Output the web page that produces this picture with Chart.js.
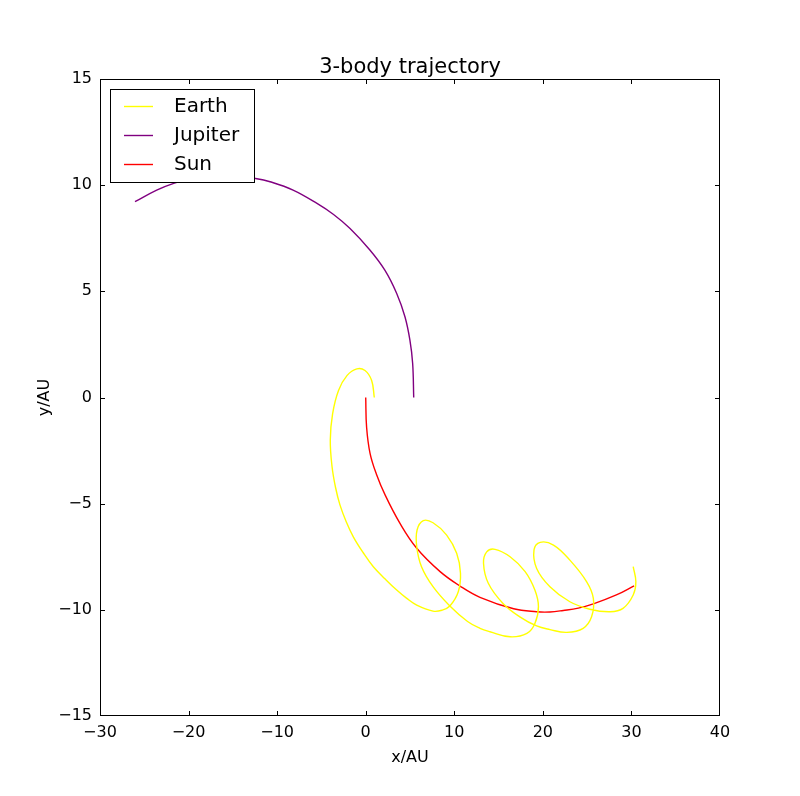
<!DOCTYPE html>
<html>
<head>
<meta charset="utf-8">
<script src="https://cdn.jsdelivr.net/npm/chart.js@4"></script>
<style>
  html,body{margin:0;padding:0;background:#fff;}
  #wrap{width:800px;height:796px;}
</style>
</head>
<body>
<div id="wrap"><canvas id="chart" width="800" height="796"></canvas></div>
<script>
// trajectories, [x, y] in AU
const earthXY = [
  [0.97,0],[0.67,0.8],[-0.08,1.27],[-1.0,1.35],[-2.1,1.04],[-3.07,0.33],[-3.74,-0.77],
  [-4.0,-2.0],[-3.8,-3.26],[-3.4,-4.25],[-2.9,-5.07],[-2.2,-5.85],[-1.4,-6.56],[-0.3,-7.3],
  [0.86,-7.97],[2.2,-8.55],[3.5,-9.07],[4.6,-9.45],[5.76,-9.78],[7.6,-10.06],[8.6,-10.02],
  [9.5,-9.82],[10.45,-9.15],[10.7,-8.28],[10.27,-7.34],[9.14,-6.48],[7.6,-5.9],[6.5,-5.8],
  [5.8,-6.24],[5.76,-7.03],[6.3,-7.97],[7.6,-8.91],[9.5,-9.82],[11.5,-10.55],[12.9,-10.87],
  [14.03,-11.03],[16.3,-11.27],[18.2,-11.11],[19.1,-10.64],[19.5,-9.85],[19.1,-9.07],
  [18.0,-8.2],[16.3,-7.5],[14.6,-7.15],[13.66,-7.27],[13.3,-7.81],[13.84,-8.75],[15.5,-9.7],
  [17.4,-10.33],[19.3,-10.76],[20.8,-10.93],[22.7,-11.06],[24.55,-10.87],[25.5,-10.33],
  [25.7,-9.46],[24.95,-8.68],[23.05,-7.66],[21.2,-6.95],[19.7,-6.82],[19.0,-7.18],
  [19.3,-8.05],[20.8,-8.91],[23.05,-9.62],[25.3,-9.97],[27.6,-10.09],[29.05,-9.93],
  [30.2,-9.3],[30.5,-8.68],[30.2,-7.97]
];
const jupiterXY = [
  [5.42,0],[5.3,1.6],[4.99,2.7],[4.43,3.8],[3.5,4.9],[2.16,6.0],[0.47,6.95],[-1.77,7.96],
  [-3.63,8.62],[-5.5,9.14],[-8.2,9.77],[-10.8,10.16],[-12.5,10.32],[-14.2,10.41],
  [-16,10.45],[-18,10.4],[-20,10.27],[-21.6,10.1],[-23.6,9.77],[-26.05,9.22]
];
const sunXY = [
  [0,0],[0.1,-1.4],[0.49,-2.63],[1.2,-3.6],[2.2,-4.6],[3.87,-5.93],[5.76,-7.1],[8.4,-8.2],
  [10.65,-8.88],[12.9,-9.41],[16.7,-9.95],[19.3,-10.09],[20.8,-10.1],[22.3,-10.03],
  [24,-9.92],[25.7,-9.72],[28.3,-9.3],[30.3,-8.87]
];
const seriesNames = ["Earth","Jupiter","Sun"];
const seriesColors = ["#ffff00","#800080","#ff0000"];
const xTicks = [-30,-20,-10,0,10,20,30,40];
const yTicks = [-15,-10,-5,0,5,10,15];

const toPts = (arr)=>arr.map(([x,y])=>({x,y}));
const fmt = (v)=> v<0 ? "\u2212"+Math.abs(v) : String(v);
const FONT = "'DejaVu Sans', sans-serif";

// frame, inward ticks, title, axis labels, legend
const decor = {
  id:"decor",
  afterDraw(chart){
    const c = chart.ctx, a = chart.chartArea;
    const sx = chart.scales.x, sy = chart.scales.y;
    const clampX = (p)=>Math.min(Math.max(p, a.left+0.5), a.right-0.5);
    const clampY = (p)=>Math.min(Math.max(p, a.top+0.5), a.bottom-0.5);
    c.save();
    c.strokeStyle = "#000"; c.lineWidth = 1;
    c.strokeRect(a.left+0.5, a.top+0.5, a.right-a.left-1, a.bottom-a.top-1);
    c.beginPath();
    xTicks.forEach(v=>{
      const p = clampX(Math.round(sx.getPixelForValue(v))+0.5);
      c.moveTo(p,a.bottom); c.lineTo(p,a.bottom-5);
      c.moveTo(p,a.top); c.lineTo(p,a.top+5);
    });
    yTicks.forEach(v=>{
      const p = clampY(Math.round(sy.getPixelForValue(v))+0.5);
      c.moveTo(a.left,p); c.lineTo(a.left+5,p);
      c.moveTo(a.right,p); c.lineTo(a.right-5,p);
    });
    c.stroke();

    c.fillStyle = "#000";
    c.textAlign = "center"; c.textBaseline = "alphabetic";
    c.font = "21px "+FONT;
    c.fillText("3-body trajectory", (a.left+a.right)/2, 73);
    c.font = "16px "+FONT;
    c.fillText("x/AU", (a.left+a.right)/2, 762);
    c.save();
    c.translate(49, (a.top+a.bottom)/2);
    c.rotate(-Math.PI/2);
    c.fillText("y/AU", 0, 0);
    c.restore();

    // legend
    c.fillStyle = "#fff";
    c.fillRect(110.5, 89.5, 144, 93);
    c.strokeStyle = "#000";
    c.strokeRect(110.5, 89.5, 144, 93);
    c.font = "20px "+FONT;
    c.textAlign = "left"; c.textBaseline = "middle";
    seriesNames.forEach((n,i)=>{
      const y = 106 + i*29;
      c.strokeStyle = seriesColors[i]; c.lineWidth = 1.4;
      c.beginPath(); c.moveTo(124,y+0.5); c.lineTo(153,y+0.5); c.stroke();
      c.fillStyle = "#000";
      c.fillText(n, 174, y+1);
    });
    c.restore();
  }
};

new Chart(document.getElementById("chart"), {
  type:"scatter",
  data:{
    datasets:[earthXY,jupiterXY,sunXY].map((arr,i)=>({
      label: seriesNames[i],
      data: toPts(arr),
      showLine:true,
      borderColor: seriesColors[i],
      backgroundColor: seriesColors[i],
      borderWidth:1.4,
      pointRadius:0,
      tension:0.4,
      fill:false
    }))
  },
  options:{
    responsive:false,
    animation:false,
    layout:{ padding:{ left:0, right:80, top:79, bottom:0 } },
    plugins:{ legend:{display:false}, title:{display:false}, tooltip:{enabled:false} },
    scales:{
      x:{
        type:"linear", min:-30, max:40,
        afterBuildTicks:(s)=>{ s.ticks = xTicks.map(v=>({value:v})); },
        afterFit:(s)=>{ s.height = 80; },
        grid:{ display:false, drawTicks:false },
        border:{ display:false },
        ticks:{ color:"#000", padding:7, font:{ family:FONT, size:16 }, callback:(v)=>fmt(v), maxRotation:0 }
      },
      y:{
        type:"linear", min:-15, max:15,
        afterBuildTicks:(s)=>{ s.ticks = yTicks.map(v=>({value:v})); },
        afterFit:(s)=>{ s.width = 100; },
        grid:{ display:false, drawTicks:false },
        border:{ display:false },
        ticks:{ color:"#000", padding:8, font:{ family:FONT, size:16 }, callback:(v)=>fmt(v) }
      }
    }
  },
  plugins:[decor]
});
</script>
</body>
</html>
